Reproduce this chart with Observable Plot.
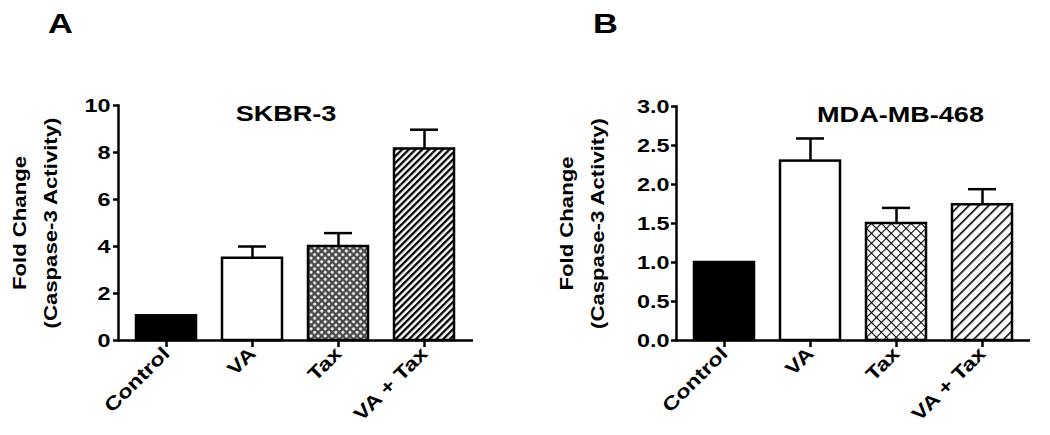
<!DOCTYPE html>
<html><head><meta charset="utf-8">
<script src="https://cdn.jsdelivr.net/npm/d3@7"></script>
<script src="https://cdn.jsdelivr.net/npm/@observablehq/plot@0.6"></script>
<style>
body{margin:0;background:#fff;}
#wrap{display:flex;width:1050px;height:435px;overflow:hidden;}
svg text{font-family:"Liberation Sans",Arial,sans-serif;font-weight:bold;}
</style></head><body><div id="wrap"></div>
<script>
const categories = ["Control", "VA", "Tax", "VA + Tax"];
const skbrMean = [1.05, 3.5, 4.0, 8.15];
const skbrErr  = [0, 0.5, 0.57, 0.82];
const mdaMean  = [1.0, 2.3, 1.5, 1.74];
const mdaErr   = [0, 0.29, 0.2, 0.2];
const skbrTicks = [0, 2, 4, 6, 8, 10];
const mdaTicks  = [0, 0.5, 1, 1.5, 2, 2.5, 3];
const yLabel1 = "Fold Change";
const yLabel2 = "(Caspase-3 Activity)";

const defsA = `
<pattern id="dotsA" width="5" height="5" patternUnits="userSpaceOnUse" patternTransform="rotate(45)">
  <rect width="5" height="5" fill="#4a4a4a"/><circle cx="2.5" cy="2.5" r="1.5" fill="#fff"/></pattern>
<pattern id="hatchA" width="4.8" height="10" patternUnits="userSpaceOnUse" patternTransform="rotate(45)">
  <rect width="4.8" height="10" fill="#fff"/><rect width="2.3" height="10" fill="#000"/></pattern>`;
const defsB = `
<pattern id="crossB" width="7" height="7" patternUnits="userSpaceOnUse" patternTransform="rotate(45)">
  <rect width="7" height="7" fill="#fff"/><path d="M0 0H7M0 0V7" stroke="#000" stroke-width="2.2"/></pattern>
<pattern id="hatchB" width="7" height="10" patternUnits="userSpaceOnUse" patternTransform="rotate(45)">
  <rect width="7" height="10" fill="#fff"/><rect width="1.6" height="10" fill="#000"/></pattern>`;

function panel(o) {
  const data = categories.map((c, i) => ({cat: c, mean: o.mean[i], err: o.err[i]}));
  const withErr = data.filter(d => d.err > 0);
  const svg = Plot.plot({
    width: o.width, height: 435,
    marginLeft: o.ml, marginRight: o.mr, marginTop: o.mt, marginBottom: 95,
    style: {fontFamily: '"Liberation Sans", Arial, sans-serif', fontWeight: "bold", fontSize: "19px", color: "black", background: "white"},
    x: {domain: categories, paddingInner: 0.3, paddingOuter: 0.2},
    y: {domain: [0, o.max]},
    color: {type: "identity"},
    marks: [
      Plot.barY(data, {x: "cat", y: "mean", fill: d => o.fills[d.cat], stroke: "black", strokeWidth: 2.5}),
      Plot.ruleX(withErr, {x: "cat", y1: "mean", y2: d => d.mean + d.err, strokeWidth: 2.5}),
      Plot.tickY(withErr, {x: "cat", y: d => d.mean + d.err, strokeWidth: 2.5, insetLeft: 16, insetRight: 16}),
      Plot.axisY({ticks: o.ticks, tickFormat: o.fmt, tickSize: 5, tickPadding: o.tickPad, strokeWidth: 2.5, fontSize: 19, label: null}),
      Plot.axisX({tickRotate: -45, tickSize: 7, tickPadding: 3, strokeWidth: 2.5, fontSize: 19, label: null}),
      Plot.ruleY([0], {strokeWidth: 2.5}),
      Plot.frame({anchor: "left", strokeWidth: 2.5}),
      Plot.text([o.title], {frameAnchor: "top", textAnchor: "middle", dx: o.titleDx, fontSize: 22, fontWeight: "bold"}),
      Plot.text([o.letter], {frameAnchor: "top-left", textAnchor: "middle", dx: o.letterDx, dy: o.letterDy, fontSize: 28, fontWeight: "bold"}),
      Plot.text([yLabel1], {frameAnchor: "left", textAnchor: "middle", rotate: -90, dx: o.yl1, fontSize: 18, fontWeight: "bold"}),
      Plot.text([yLabel2], {frameAnchor: "left", textAnchor: "middle", rotate: -90, dx: o.yl2, fontSize: 18, fontWeight: "bold"})
    ]
  });
  d3.select(svg).insert("defs", ":first-child").html(o.defs);
  document.getElementById("wrap").appendChild(svg);
  svg.querySelectorAll("text").forEach(t => {
    const sp = t.querySelectorAll("tspan");
    (sp.length ? [...sp] : [t]).forEach(e => {
      const L = e.getComputedTextLength();
      if (L > 0) { e.setAttribute("textLength", L * 1.23); e.setAttribute("lengthAdjust", "spacingAndGlyphs"); }
    });
  });
}

panel({width: 520, ml: 118, mr: 47, mt: 105, max: 10, mean: skbrMean, err: skbrErr, ticks: skbrTicks,
  fmt: d3.format("d"), tickPad: 3, title: "SKBR-3", titleDx: -10, letter: "A", letterDx: -58, letterDy: -92,
  yl1: -98, yl2: -67, defs: defsA,
  fills: {"Control": "black", "VA": "white", "Tax": "url(#dotsA)", "VA + Tax": "url(#hatchA)"}});
panel({width: 530, ml: 156, mr: 20, mt: 106, max: 3, mean: mdaMean, err: mdaErr, ticks: mdaTicks,
  fmt: d3.format(".1f"), tickPad: 2, title: "MDA-MB-468", titleDx: 47, letter: "B", letterDx: -71, letterDy: -93,
  yl1: -109, yl2: -78, defs: defsB,
  fills: {"Control": "black", "VA": "white", "Tax": "url(#crossB)", "VA + Tax": "url(#hatchB)"}});
</script></body></html>
